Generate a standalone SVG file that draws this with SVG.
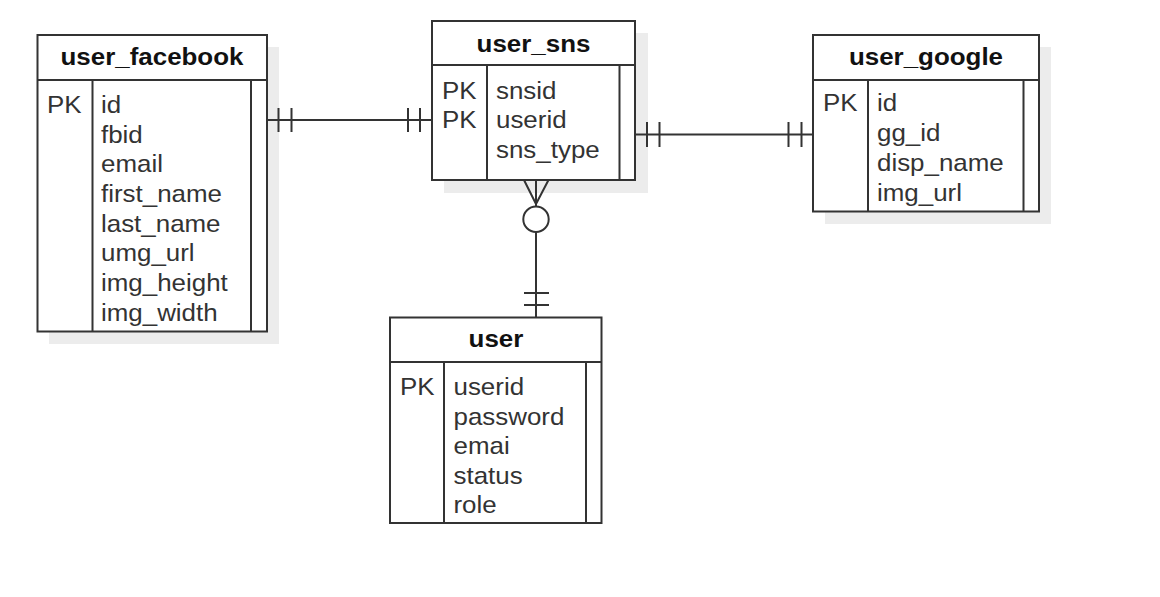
<svg xmlns="http://www.w3.org/2000/svg" width="1160" height="597" viewBox="0 0 1160 597">
<style>
.shadow{fill:#ececec;stroke:none}
.box{fill:#fff;stroke:#333;stroke-width:2}
.ln{stroke:#333;stroke-width:2;fill:none}
.t{font-family:"Liberation Sans",Arial,sans-serif;font-size:24px;fill:#333;transform:scaleX(1.08);transform-box:fill-box;transform-origin:0 0}
.h{font-family:"Liberation Sans",Arial,sans-serif;font-size:24px;font-weight:bold;fill:#111;text-anchor:middle;transform:scaleX(1.08);transform-box:fill-box;transform-origin:50% 0}
</style>
<rect width="1160" height="597" fill="#fff"/>
<g id="shadows">
  <rect class="shadow" x="49" y="47" width="230" height="297"/>
  <rect class="shadow" x="444" y="33" width="204" height="160"/>
  <rect class="shadow" x="825" y="47" width="226" height="177"/>
</g>
<g id="connectors">
  <path class="ln" d="M267 120H432M278.5 108V132M291.5 108V132M408 108V132M420 108V132"/>
  <path class="ln" d="M635 134.5H813M647 122V147M659.5 122V147M788.5 122V147M801.5 122V147"/>
  <path class="ln" d="M536 180V206.5M524 180L536 204M548.5 180L536 204M536 232V317.5M524 293H549M524 305H549"/>
  <circle class="ln" cx="536" cy="219.3" r="12.7" fill="#fff"/>
</g>
<g id="user_facebook">
  <rect class="box" x="37.5" y="35" width="229.5" height="296.5"/>
  <path class="ln" d="M37.5 80H267M92.5 80V331.5M251 80V331.5"/>
  <text class="h" x="152" y="65">user_facebook</text>
  <text class="t" x="47" y="113">PK</text>
  <text class="t" x="101" y="113">id</text>
  <text class="t" x="101" y="142.7">fbid</text>
  <text class="t" x="101" y="172.4">email</text>
  <text class="t" x="101" y="202.1">first_name</text>
  <text class="t" x="101" y="231.8">last_name</text>
  <text class="t" x="101" y="261.5">umg_url</text>
  <text class="t" x="101" y="291.2">img_height</text>
  <text class="t" x="101" y="320.9">img_width</text>
</g>
<g id="user_sns">
  <rect class="box" x="432" y="21" width="203" height="159"/>
  <path class="ln" d="M432 65H635M487 65V180M619.5 65V180"/>
  <text class="h" x="533.5" y="51.7">user_sns</text>
  <text class="t" x="442" y="99.3">PK</text>
  <text class="t" x="442" y="128.3">PK</text>
  <text class="t" x="496" y="99.3">snsid</text>
  <text class="t" x="496" y="128.3">userid</text>
  <text class="t" x="496" y="157.7">sns_type</text>
</g>
<g id="user_google">
  <rect class="box" x="813" y="35" width="226" height="176.5"/>
  <path class="ln" d="M813 80H1039M868 80V211.5M1023.5 80V211.5"/>
  <text class="h" x="926" y="65">user_google</text>
  <text class="t" x="823" y="111.5">PK</text>
  <text class="t" x="877" y="111.5">id</text>
  <text class="t" x="877" y="141.2">gg_id</text>
  <text class="t" x="877" y="170.9">disp_name</text>
  <text class="t" x="877" y="200.6">img_url</text>
</g>
<g id="user">
  <rect class="box" x="390" y="317.5" width="211.5" height="205.5"/>
  <path class="ln" d="M390 362H601.5M444 362V523M586 362V523"/>
  <text class="h" x="496" y="346.7">user</text>
  <text class="t" x="400" y="395">PK</text>
  <text class="t" x="453.5" y="395">userid</text>
  <text class="t" x="453.5" y="424.6">password</text>
  <text class="t" x="453.5" y="454.2">emai</text>
  <text class="t" x="453.5" y="483.8">status</text>
  <text class="t" x="453.5" y="513.4">role</text>
</g>
</svg>
